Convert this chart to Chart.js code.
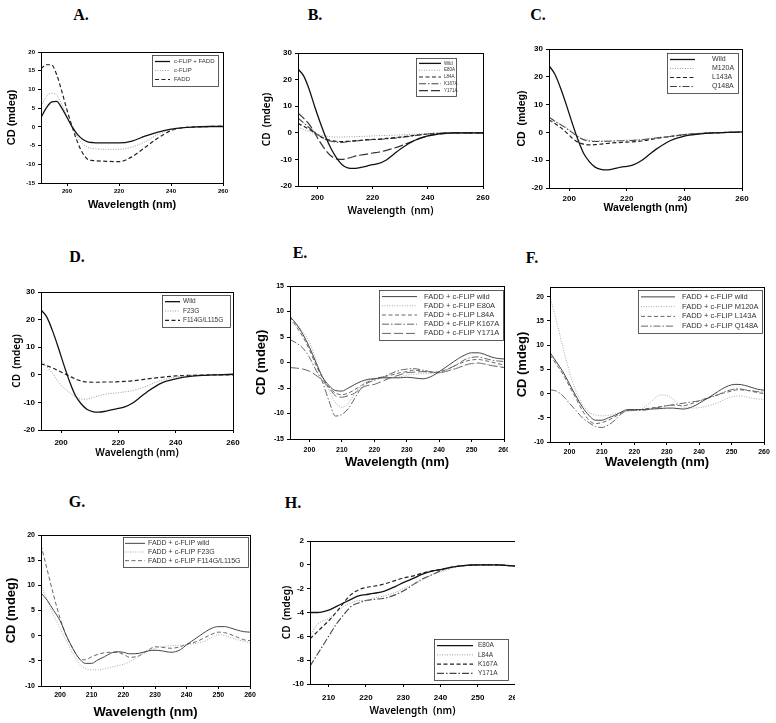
<!DOCTYPE html>
<html>
<head>
<meta charset="utf-8">
<script src="https://cdn.jsdelivr.net/npm/chart.js@4.4.1/dist/chart.umd.min.js"></script>
<style>
  body { margin: 0; background: #fff; }
  #fig { position: relative; width: 776px; height: 723px; background: #fff; overflow: hidden; }
  .tag { position: absolute; font: bold 16px "Liberation Serif", "Times New Roman", serif; transform: translate(-50%, -50%); color: #000; }
</style>
</head>
<body>
<div id="fig"></div>
<script>
// CD spectra (wavelength in nm, CD in mdeg)

// A. c-FLIP / FADD
const wlA = [190,192,194,196,198,200,202,204,206,208,210,215,220,225,230,235,240,245,250,255,260];
const aFlipFadd = [2.5,5,6.6,6.8,5,2.5,0,-2,-3.3,-4,-4.2,-4.3,-4.3,-3.8,-2.5,-1.4,-0.6,-0.2,0,0.1,0.1];
const aFlip     = [5.5,8,9,8.5,6,3,0,-2.8,-4.5,-5.5,-5.8,-6,-6,-5.4,-4,-2,-0.8,-0.2,0,0.1,0.1];
const aFadd     = [15.5,16.6,16.6,14,9.5,4.5,0,-4,-7,-8.7,-9,-9.2,-9.3,-8,-5.5,-3,-1,-0.2,0,0.1,0.2];

// B, C, D share the same wavelengths
const wlB = [193,195,197,199,201,203,205,207,209,211,213,215,218,220,222,225,228,230,235,240,245,250,255,260];
const bWild  = [24,21.5,16.5,10,4,-1.5,-6,-9.5,-12,-13.2,-13.4,-13.2,-12.5,-12,-11.6,-10.2,-7.8,-6.2,-3,-1.2,-0.3,0,0,0];
const bE80A  = [2,1.3,0.5,-0.3,-0.8,-1.2,-1.5,-1.6,-1.6,-1.5,-1.5,-1.4,-1.3,-1.2,-1.1,-1,-0.9,-0.8,-0.5,-0.3,-0.1,0,0,0];
const bL84A  = [3.5,2.5,1.3,0,-1.3,-2.3,-2.9,-3.2,-3.3,-3.2,-3,-2.9,-2.6,-2.5,-2.4,-2.1,-1.8,-1.6,-1,-0.5,-0.2,0,0,0];
const bK167A = [5.5,3.8,2,0.3,-1.3,-2.5,-3.2,-3.5,-3.6,-3.4,-3.2,-3,-2.7,-2.6,-2.5,-2.3,-2,-1.8,-1.1,-0.4,-0.1,0,0,0];
const bY171A = [7.5,5.5,3.3,0,-3.5,-6.5,-8.7,-9.8,-10,-9.6,-9,-8.5,-8,-7.6,-7.3,-6.6,-5.7,-5,-3,-1.2,-0.4,0,0,0];

const cWild  = [24,21,16,10,3.5,-2.5,-7.5,-10.5,-12.5,-13.3,-13.5,-13.2,-12.5,-12.2,-11.8,-10.2,-7.8,-6.2,-3,-1.3,-0.6,-0.2,0,0.2];
const cM120A = [4,3.8,3,1.8,0.2,-1.3,-2.3,-2.8,-3,-3,-3,-3,-2.9,-2.8,-2.7,-2.5,-2.2,-2,-1.5,-0.8,-0.4,-0.2,0,0];
const cL143A = [4.5,3.2,1.8,0,-2,-3.5,-4.2,-4.5,-4.4,-4.2,-4,-3.8,-3.6,-3.5,-3.4,-3.1,-2.6,-2.2,-1.5,-0.8,-0.4,-0.2,0,0];
const cQ148A = [5.5,4,2.8,1.5,0,-1.5,-2.6,-3.1,-3.3,-3.3,-3.2,-3.1,-3,-3,-2.9,-2.7,-2.3,-2,-1.5,-0.8,-0.4,-0.2,0,0];

const dWild  = [23.5,21,16,10,3.5,-2.5,-7.5,-10.5,-12.5,-13.3,-13.5,-13.3,-12.6,-12.2,-11.7,-10.2,-7.8,-6.2,-3,-1.5,-0.6,-0.2,0,0.2];
const dF23G  = [5.5,3,0.5,-2.5,-4.8,-6.5,-8,-8.8,-8.8,-8.2,-7.6,-7.1,-6.7,-6.5,-6.2,-5.7,-4.8,-4,-2,-0.8,-0.3,-0.1,0,0];
const dF114G = [4,3.3,2.5,1.5,0.5,-0.5,-1.5,-2.2,-2.6,-2.7,-2.7,-2.6,-2.6,-2.5,-2.4,-2.2,-1.8,-1.5,-0.9,-0.4,-0.2,-0.1,0,0];

// E, F, G (FADD + c-FLIP complexes) share the same wavelengths
const wlE = [194,196,198,200,202,204,206,208,210,212,214,216,218,220,222,225,228,230,232,235,238,240,243,246,248,250,252,254,256,258,260];
const eWild  = [9,7.5,5.5,3,0,-2.8,-4.5,-5.5,-5.6,-5,-4.3,-3.7,-3.3,-3.2,-3,-3,-3,-2.9,-3,-3.2,-2.6,-1.8,-0.5,0.8,1.5,1.9,1.9,1.6,1.1,0.8,0.7];
const eE80A  = [8,7.5,6,4,0.5,-3.2,-5.5,-7.8,-8.8,-8,-6,-4.5,-3.5,-3.2,-3.1,-3,-2.8,-2.5,-2.3,-2.2,-2.1,-2,-1.5,-1,-0.6,-0.3,-0.2,-0.3,-0.5,-0.7,-0.8];
const eL84A  = [9,7,5,2.5,-0.5,-3,-4.8,-6,-6.3,-6,-5.3,-4.5,-3.8,-3.2,-2.9,-2.5,-2,-1.8,-1.5,-1.7,-1.9,-1.8,-1.2,-0.3,0.2,0.5,0.6,0.4,0.1,-0.2,-0.5];
const eK167A = [4.5,3.8,2.8,1,-1.5,-3.8,-7.5,-10.5,-10.2,-9,-7,-5,-4,-3.5,-3,-2.2,-1.5,-1.3,-1.2,-1.5,-1.9,-2,-1.2,-0.2,0.6,1,1.1,0.8,0.5,0.3,0.2];
const eY171A = [-1,-1.1,-1.3,-1.7,-2.5,-3.5,-5,-6.5,-6.8,-6.5,-6,-5,-4.5,-4.3,-3.8,-3,-2.4,-2,-1.9,-1.8,-1.9,-2,-1.6,-1,-0.5,-0.2,-0.1,-0.3,-0.6,-0.8,-1];

const fWild  = [8.5,6.5,4.5,2,-0.5,-2.8,-4.5,-5.5,-5.5,-5,-4.5,-3.8,-3.3,-3.3,-3.3,-3.2,-3.1,-3,-3,-3.2,-2.7,-2,-0.8,0.5,1.3,1.8,1.9,1.7,1.3,0.9,0.7];
const fM120A = [20,15,9.5,4.5,0.5,-2.2,-3.8,-4.4,-4.6,-4.5,-4.2,-3.9,-3.7,-3.5,-3.3,-1.8,-0.3,-0.4,-1.2,-2.8,-3,-2.9,-2.5,-1.8,-1.2,-0.7,-0.5,-0.6,-0.9,-1.1,-1.2];
const fL143A = [8,6,4,1.5,-1,-3.5,-5.5,-6.2,-6,-5.5,-4.8,-4,-3.5,-3.5,-3.3,-3,-2.7,-2.5,-2.4,-2.5,-2,-1.5,-0.8,-0.2,0.2,0.5,0.8,0.7,0.5,0.2,0];
const fQ148A = [0.8,0.5,-0.5,-2,-3.5,-5,-6,-6.8,-7,-6.5,-5.5,-4.2,-3.5,-3.5,-3.5,-3.2,-2.8,-2.5,-2.3,-2,-1.7,-1.5,-0.9,-0.2,0.4,0.8,1,0.8,0.6,0.4,0.3];

const gWild  = [8.5,7,5,3,0,-2.5,-4.5,-5.5,-5.5,-4.8,-4.2,-3.5,-3.2,-3.3,-3.6,-3.5,-3,-2.9,-3,-3.3,-2.8,-1.8,-0.5,0.8,1.5,1.8,1.8,1.5,1.1,0.8,0.7];
const gF23G  = [10,7,4,1.5,-1,-3.5,-5.5,-6.5,-6.8,-6.8,-6.6,-6.3,-6,-5.7,-5.2,-4,-3,-2.5,-2.2,-2,-1.9,-1.8,-1.5,-1,-0.3,0.2,0,-0.4,-0.8,-1.1,-1.5];
const gF114G = [18,13,8,3.5,0,-2.5,-4.5,-4.8,-4.2,-3.7,-3.4,-3.3,-3.3,-3.7,-4.3,-4,-2.8,-2.2,-2.3,-2.5,-2.2,-1.7,-1.2,-0.3,0.3,0.7,0.6,0.2,-0.3,-0.8,-1];

// H. c-FLIP mutants, far-UV window
const wlH = [205,207,210,212,214,216,218,220,222,225,228,230,233,235,238,240,243,245,250,255,260];
const hE80A  = [-4,-4,-3.8,-3.5,-3.2,-2.9,-2.6,-2.5,-2.4,-2.2,-1.8,-1.5,-1.1,-0.8,-0.5,-0.4,-0.2,-0.1,0,0,-0.1];
const hL84A  = [-6,-5,-4.5,-4,-3.5,-3.2,-3,-3,-2.8,-2.6,-2.3,-2,-1.6,-1.3,-0.8,-0.6,-0.3,-0.1,0,0,-0.1];
const hK167A = [-6.2,-5.6,-4.7,-4,-3.2,-2.5,-2.1,-1.9,-1.8,-1.6,-1.3,-1.1,-0.9,-0.7,-0.5,-0.4,-0.2,-0.1,0,0,-0.1];
const hY171A = [-8.5,-7.5,-6,-5,-4.2,-3.5,-3.2,-3,-2.9,-2.8,-2.5,-2.2,-1.6,-1.2,-0.8,-0.5,-0.2,-0.1,0,0,-0.1];

// line styles (SigmaPlot look)
const DARK = {
  solid:    {color: '#111', dash: [],            width: 1.3},
  dotted:   {color: '#9a9a9a', dash: [1, 1.5],   width: 1},
  dashed:   {color: '#222', dash: [4, 2.5],      width: 1.2},
  dashdot:  {color: '#444', dash: [7, 2, 1.5, 2], width: 1.1},
  longdash: {color: '#333', dash: [9, 3],        width: 1.2}
};
const SOFT = {
  solid:    {color: '#444', dash: [],            width: 1},
  dotted:   {color: '#aaa', dash: [1, 1.5],      width: 1},
  dashed:   {color: '#666', dash: [4, 2.5],      width: 1},
  dashdot:  {color: '#666', dash: [7, 2, 1.5, 2], width: 1},
  longdash: {color: '#666', dash: [9, 3],        width: 1}
};

const ARIAL = '"Liberation Sans", Arial, sans-serif';
const GOTHIC = '"Noto Sans", "Liberation Sans", sans-serif';

const panels = [
  { tag: 'A.', tagAt: [81, 15], plot: [41, 52, 223, 183], yTitleX: 12, xTitleY: 205, padR: 12, xPad: 2,
    x: [190, 260, 20], y: [-15, 20, 5], styles: DARK,
    tick: {family: ARIAL, size: 6, weight: 'bold'}, title: {family: ARIAL, size: 11, weight: 'bold'},
    yText: 'CD (mdeg)', xText: 'Wavelength (nm)',
    legend: {box: [152, 55, 218, 86], line: [155, 170], textX: 174, size: 6},
    series: [['c-FLIP + FADD', wlA, aFlipFadd, 'solid'], ['c-FLIP', wlA, aFlip, 'dotted'], ['FADD', wlA, aFadd, 'dashed']] },
  { tag: 'B.', tagAt: [315, 15], plot: [298, 53, 483, 186], yTitleX: 267, xTitleY: 211, padR: 12, xPad: 4,
    x: [193, 260, 20], y: [-20, 30, 10], styles: DARK,
    tick: {family: ARIAL, size: 8, weight: 'bold'}, title: {family: GOTHIC, size: 10, weight: '600'},
    yText: 'CD  (mdeg)', xText: 'Wavelength  (nm)',
    legend: {box: [416, 58, 456, 96], line: [419, 441], textX: 444, size: 4.5},
    series: [['Wild', wlB, bWild, 'solid'], ['E80A', wlB, bE80A, 'dotted'], ['L84A', wlB, bL84A, 'dashed'],
             ['K167A', wlB, bK167A, 'dashdot'], ['Y171A', wlB, bY171A, 'longdash']] },
  { tag: 'C.', tagAt: [538, 15], plot: [549, 49, 742, 188], yTitleX: 522, xTitleY: 208, padR: 12, xPad: 3,
    x: [193, 260, 20], y: [-20, 30, 10], styles: DARK,
    tick: {family: ARIAL, size: 8, weight: 'bold'}, title: {family: ARIAL, size: 10.5, weight: 'bold'},
    yText: 'CD  (mdeg)', xText: 'Wavelength (nm)',
    legend: {box: [667, 53, 738, 93], line: [670, 695], textX: 712, size: 7},
    series: [['Wild', wlB, cWild, 'solid'], ['M120A', wlB, cM120A, 'dotted'], ['L143A', wlB, cL143A, 'dashed'],
             ['Q148A', wlB, cQ148A, 'dashdot']] },
  { tag: 'D.', tagAt: [77, 257], plot: [41, 292, 233, 430], yTitleX: 17, xTitleY: 453, padR: 12, xPad: 5,
    x: [193, 260, 20], y: [-20, 30, 10], styles: DARK,
    tick: {family: ARIAL, size: 8, weight: 'bold'}, title: {family: GOTHIC, size: 10, weight: '600'},
    yText: 'CD  (mdeg)', xText: 'Wavelength (nm)',
    legend: {box: [162, 295, 230, 327], line: [165, 180], textX: 183, size: 6.5},
    series: [['Wild', wlB, dWild, 'solid'], ['F23G', wlB, dF23G, 'dotted'], ['F114G/L115G', wlB, dF114G, 'dashed']] },
  { tag: 'E.', tagAt: [300, 253], plot: [290, 286, 504, 439], yTitleX: 262, xTitleY: 462, padR: 4, xPad: 4,
    x: [194, 260, 10], y: [-15, 15, 5], styles: SOFT,
    tick: {family: ARIAL, size: 7, weight: 'bold'}, title: {family: ARIAL, size: 13, weight: 'bold'},
    yText: 'CD (mdeg)', xText: 'Wavelength (nm)',
    legend: {box: [379, 290, 503, 340], line: [382, 417], textX: 424, size: 7.5},
    series: [['FADD + c-FLIP wild', wlE, eWild, 'solid'], ['FADD + c-FLIP E80A', wlE, eE80A, 'dotted'],
             ['FADD + c-FLIP L84A', wlE, eL84A, 'dashed'], ['FADD + c-FLIP K167A', wlE, eK167A, 'dashdot'],
             ['FADD + c-FLIP Y171A', wlE, eY171A, 'longdash']] },
  { tag: 'F.', tagAt: [532, 258], plot: [550, 287, 764, 442], yTitleX: 523, xTitleY: 462, padR: 10, xPad: 3,
    x: [194, 260, 10], y: [-10, 22, 5], styles: SOFT,
    tick: {family: ARIAL, size: 7, weight: 'bold'}, title: {family: ARIAL, size: 13, weight: 'bold'},
    yText: 'CD (mdeg)', xText: 'Wavelength (nm)',
    legend: {box: [638, 290, 762, 333], line: [641, 675], textX: 682, size: 7.5},
    series: [['FADD + c-FLIP wild', wlE, fWild, 'solid'], ['FADD + c-FLIP M120A', wlE, fM120A, 'dotted'],
             ['FADD + c-FLIP L143A', wlE, fL143A, 'dashed'], ['FADD + c-FLIP Q148A', wlE, fQ148A, 'dashdot']] },
  { tag: 'G.', tagAt: [77, 502], plot: [41, 535, 250, 686], yTitleX: 12, xTitleY: 712, padR: 10, xPad: 2,
    x: [194, 260, 10], y: [-10, 20, 5], styles: SOFT,
    tick: {family: ARIAL, size: 7, weight: 'bold'}, title: {family: ARIAL, size: 13, weight: 'bold'},
    yText: 'CD (mdeg)', xText: 'Wavelength (nm)',
    legend: {box: [123, 537, 248, 567], line: [125, 145], textX: 148, size: 7},
    series: [['FADD + c-FLIP wild', wlE, gWild, 'solid'], ['FADD + c-FLIP F23G', wlE, gF23G, 'dotted'],
             ['FADD + c-FLIP F114G/L115G', wlE, gF114G, 'dashed']] },
  { tag: 'H.', tagAt: [293, 503], plot: [310, 541, 515, 684], yTitleX: 287, xTitleY: 711, padR: 0, xPad: 6,
    x: [205, 260, 10], y: [-10, 2, 2], styles: DARK,
    tick: {family: ARIAL, size: 8, weight: 'bold'}, title: {family: GOTHIC, size: 10, weight: '600'},
    yText: 'CD  (mdeg)', xText: 'Wavelength  (nm)',
    legend: {box: [434, 639, 508, 680], line: [437, 473], textX: 478, size: 6.5},
    series: [['E80A', wlH, hE80A, 'solid'], ['L84A', wlH, hL84A, 'dotted'], ['K167A', wlH, hK167A, 'dashed'],
             ['Y171A', wlH, hY171A, 'dashdot']] }
];

const fig = document.getElementById('fig');

function pts(xs, ys) {
  return xs.map((x, i) => ({x: x, y: ys[i]}));
}

panels.forEach(p => {
  const [pl, pt, pr, pb] = p.plot;
  const lh = p.title.size * 1.2;
  const left = Math.round(p.yTitleX - lh / 2);
  const top = pt - 6;
  const right = pr + p.padR;
  const bottom = Math.round(p.xTitleY + lh / 2);
  const yW = pl - left;
  const xH = bottom - pb;

  const tag = document.createElement('div');
  tag.className = 'tag';
  tag.textContent = p.tag;
  tag.style.left = p.tagAt[0] + 'px';
  tag.style.top = p.tagAt[1] + 'px';
  fig.appendChild(tag);

  const cv = document.createElement('canvas');
  cv.width = right - left;
  cv.height = bottom - top;
  cv.style.cssText = 'position:absolute;left:' + left + 'px;top:' + top + 'px';
  fig.appendChild(cv);

  const datasets = p.series.map(s => {
    const st = p.styles[s[3]];
    return {
      label: s[0],
      data: pts(s[1], s[2]),
      borderColor: st.color,
      borderDash: st.dash,
      borderWidth: st.width,
      fill: false,
      pointRadius: 0,
      cubicInterpolationMode: 'monotone'
    };
  });

  // box around the plot + boxed legend inside it
  const frameLegend = {
    id: 'frameLegend',
    afterDatasetsDraw(chart) {
      const ctx = chart.ctx;
      const a = chart.chartArea;
      ctx.save();
      ctx.strokeStyle = '#000';
      ctx.lineWidth = 1;
      ctx.setLineDash([]);
      ctx.strokeRect(Math.round(a.left) + 0.5, Math.round(a.top) + 0.5,
                     Math.round(a.right - a.left), Math.round(a.bottom - a.top));

      const lg = p.legend;
      const bx = lg.box[0] - left, by = lg.box[1] - top;
      const bw = lg.box[2] - lg.box[0], bh = lg.box[3] - lg.box[1];
      ctx.fillStyle = '#fff';
      ctx.fillRect(bx, by, bw, bh);
      ctx.lineWidth = 0.8;
      ctx.strokeStyle = '#333';
      ctx.strokeRect(bx + 0.5, by + 0.5, bw, bh);
      const n = chart.data.datasets.length;
      const rowH = (bh - 4) / n;
      ctx.font = lg.size + 'px ' + ARIAL;
      ctx.textBaseline = 'middle';
      chart.data.datasets.forEach((ds, i) => {
        const cy = by + 2 + rowH * (i + 0.5);
        ctx.beginPath();
        ctx.strokeStyle = ds.borderColor;
        ctx.lineWidth = ds.borderWidth;
        ctx.setLineDash(ds.borderDash);
        ctx.moveTo(lg.line[0] - left, cy);
        ctx.lineTo(lg.line[1] - left, cy);
        ctx.stroke();
        ctx.setLineDash([]);
        ctx.fillStyle = '#333';
        ctx.fillText(ds.label, lg.textX - left, cy);
      });
      ctx.restore();
    }
  };

  const axisCommon = {
    type: 'linear',
    grid: {drawOnChartArea: false, drawTicks: true, tickLength: 3, color: '#000', tickColor: '#000', lineWidth: 1},
    border: {display: true, color: '#000', width: 1}
  };

  new Chart(cv, {
    type: 'line',
    data: {datasets: datasets},
    options: {
      responsive: false,
      animation: false,
      layout: {padding: {left: 0, top: 6, right: p.padR, bottom: 0}},
      plugins: {legend: {display: false}, tooltip: {enabled: false}},
      scales: {
        x: Object.assign({}, axisCommon, {
          min: p.x[0], max: p.x[1],
          ticks: {stepSize: p.x[2], includeBounds: false, autoSkip: false, maxRotation: 0,
                  color: '#000', font: p.tick, padding: p.xPad},
          title: {display: true, text: p.xText, color: '#000', font: p.title, padding: 0},
          afterFit(s) { s.height = xH; s.paddingLeft = 0; s.paddingRight = 0; }
        }),
        y: Object.assign({}, axisCommon, {
          min: p.y[0], max: p.y[1],
          ticks: {stepSize: p.y[2], includeBounds: false, autoSkip: false,
                  color: '#000', font: p.tick, padding: 3},
          title: {display: true, text: p.yText, color: '#000', font: p.title, padding: 0},
          afterFit(s) { s.width = yW; s.paddingTop = 0; s.paddingBottom = 0; }
        })
      }
    },
    plugins: [frameLegend]
  });
});
</script>
</body>
</html>
